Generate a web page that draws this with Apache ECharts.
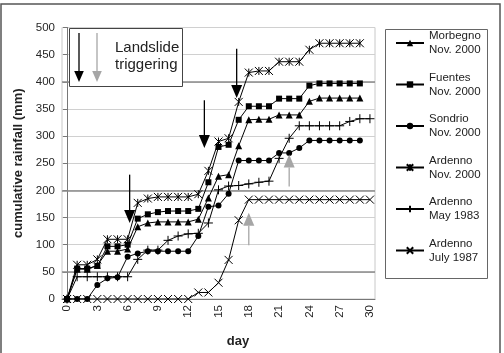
<!DOCTYPE html>
<html>
<head>
<meta charset="utf-8">
<script src="https://cdn.jsdelivr.net/npm/echarts@6/dist/echarts.min.js"></script>
<style>
  html, body { margin: 0; padding: 0; background: #fff; }
  #chart { width: 504px; height: 353px; }
</style>
</head>
<body>
<div id="chart"></div>
<script>
const days = ['0','1','2','3','4','5','6','7','8','9','10','11','12','13','14','15',
  '16','17','18','19','20','21','22','23','24','25','26','27','28','29','30']

const morbegno = [0,55,55,62,88,88,92,133,140,142,142,142,142,147,186,226,229,282,330,331,331,339,339,339,364,370,370,370,370,370]
const fuentes = [0,56,56,61,97,97,100,148,156,160,162,162,162,166,215,280,284,330,355,355,355,369,369,369,393,397,397,397,397,397]
const sondrio = [0,0,0,26,38,40,78,84,88,88,88,88,88,116,170,172,194,255,255,255,255,269,269,278,292,292,292,292,292,292]
const ardennoNov2000 = [0,63,63,73,110,110,110,177,185,188,188,188,188,193,236,290,296,363,417,420,420,437,437,437,459,471,471,471,471,471]
const ardennoMay1983 = [0,41,41,41,41,41,41,73,90,90,108,116,120,121,140,201,208,209,212,215,217,259,296,319,319,319,319,319,327,332,332]
const ardennoJuly1987 = [0,0,0,0,0,0,0,0,0,0,0,0,0,12,12,30,72,145,183,183,183,183,183,183,183,183,183,183,183,183,183]

// darker reference lines across the plot
const refLines = [50, 200, 400]

// landslide arrows: day, start value, tip value, gray (1) or black (0)
const arrowDay = [6.2, 13.6, 16.8, 22.0, 18.0]
const arrowFrom = [229, 366, 461, 207, 99]
const arrowTo = [140, 278, 370, 266, 159]
const arrowGray = [0, 0, 0, 1, 1]

const FONT = "'Liberation Sans', Arial, sans-serif"
const chart = echarts.init(document.getElementById('chart'))

const strokeSym = { color: 'rgba(0,0,0,0)', borderColor: '#000', borderWidth: 1 }
const fillSym = { color: '#000', borderWidth: 0 }

const mkSeries = (name, data, symbol, size, itemStyle) => ({
  name,
  type: 'line',
  data,
  symbol,
  symbolSize: size,
  showAllSymbol: true,
  itemStyle,
  lineStyle: { color: '#000', width: 1 },
  emphasis: { disabled: true },
  z: 3
})

const arrowData = arrowDay.map((d, i) => [d, arrowFrom[i], arrowTo[i], arrowGray[i]])

const option = {
  backgroundColor: '#fff',
  animation: false,
  textStyle: { fontFamily: FONT },
  grid: {
    left: 62, right: 129, top: 27.5, bottom: 52.5,
    show: true, borderColor: '#c8c8c8', borderWidth: 1
  },
  legend: {
    orient: 'vertical',
    left: 395,
    top: 22.25,
    padding: 0,
    itemWidth: 28,
    itemHeight: 8,
    itemGap: 0,
    selectedMode: false,
    textStyle: { fontSize: 11.5, color: '#222', lineHeight: 14, padding: [13.5, 0, 0, 0], fontFamily: FONT },
    data: ['Morbegno\nNov. 2000', 'Fuentes\nNov. 2000', 'Sondrio\nNov. 2000',
      'Ardenno\nNov. 2000', 'Ardenno\nMay 1983', 'Ardenno\nJuly 1987']
  },
  xAxis: [
    {
      type: 'category',
      data: days,
      boundaryGap: true,
      name: 'day',
      nameLocation: 'middle',
      nameGap: 36,
      nameTextStyle: { fontSize: 13, fontWeight: 'bold', color: '#222', padding: [0, 0, 0, 39] },
      axisLine: { lineStyle: { color: '#777' } },
      axisTick: { interval: 0, length: 4, lineStyle: { color: '#777' } },
      axisLabel: { interval: 2, rotate: 90, fontSize: 11.5, color: '#262626', margin: 6 },
      splitLine: { show: false }
    },
    {
      type: 'value',
      min: -0.5,
      max: 30.5,
      show: false
    }
  ],
  yAxis: {
    type: 'value',
    min: 0,
    max: 500,
    interval: 50,
    name: 'cumulative rainfall (mm)',
    nameLocation: 'middle',
    nameGap: 36,
    nameTextStyle: { fontSize: 13, fontWeight: 'bold', color: '#222' },
    axisLine: { show: true, lineStyle: { color: '#777' } },
    axisTick: { show: true, length: 4, lineStyle: { color: '#777' } },
    axisLabel: { fontSize: 11.5, color: '#262626', margin: 7 },
    splitLine: { lineStyle: { color: '#d0d0d0', width: 1 } }
  },
  series: [
    Object.assign(mkSeries('Morbegno\nNov. 2000', morbegno, 'triangle', 7, fillSym), {
      markLine: {
        silent: true,
        symbol: 'none',
        z: 1,
        label: { show: false },
        lineStyle: { color: '#8a8a8a', width: 1.6, type: 'solid' },
        data: refLines.map(v => ({ yAxis: v }))
      }
    }),
    mkSeries('Fuentes\nNov. 2000', fuentes, 'rect', 6, fillSym),
    mkSeries('Sondrio\nNov. 2000', sondrio, 'circle', 6, fillSym),
    mkSeries('Ardenno\nNov. 2000', ardennoNov2000, 'path://M0,0L10,10M10,0L0,10M5,0L5,10', 8, strokeSym),
    mkSeries('Ardenno\nMay 1983', ardennoMay1983, 'path://M5,0L5,10M0,5L10,5', 9, strokeSym),
    mkSeries('Ardenno\nJuly 1987', ardennoJuly1987, 'path://M0,0L10,10M10,0L0,10', 8, strokeSym),
    {
      name: 'arrows',
      type: 'custom',
      xAxisIndex: 1,
      yAxisIndex: 0,
      silent: true,
      z: 4,
      data: arrowData,
      renderItem: (params, api) => {
        const from = api.coord([api.value(0), api.value(1)])
        const to = api.coord([api.value(0), api.value(2)])
        const color = api.value(3) ? '#a6a6a6' : '#000'
        const dir = to[1] > from[1] ? 1 : -1
        const headLen = 13
        const headW = 5.5
        const base = to[1] - dir * headLen
        return {
          type: 'group',
          children: [
            { type: 'line', shape: { x1: from[0], y1: from[1], x2: to[0], y2: base }, style: { stroke: color, lineWidth: 1.3 } },
            { type: 'polygon', shape: { points: [[to[0] - headW, base], [to[0] + headW, base], [to[0], to[1]]] }, style: { fill: color } }
          ]
        }
      }
    }
  ],
  graphic: [
    // outer frame
    { type: 'rect', shape: { x: 1, y: 4, width: 499, height: 360 }, style: { fill: 'none', stroke: '#555', lineWidth: 1.5 }, silent: true },
    // legend frame
    { type: 'rect', shape: { x: 385.5, y: 29.5, width: 102, height: 249 }, style: { fill: 'none', stroke: '#666', lineWidth: 1 }, silent: true },
    // landslide key box
    { type: 'rect', shape: { x: 69.5, y: 28.5, width: 113, height: 58 }, style: { fill: '#fff', stroke: '#444', lineWidth: 1 }, z: 10, silent: true },
    { type: 'line', shape: { x1: 79, y1: 33, x2: 79, y2: 72 }, style: { stroke: '#000', lineWidth: 1.3 }, z: 11, silent: true },
    { type: 'polygon', shape: { points: [[74.2, 71], [83.8, 71], [79, 82]] }, style: { fill: '#000' }, z: 11, silent: true },
    { type: 'line', shape: { x1: 97, y1: 33, x2: 97, y2: 72 }, style: { stroke: '#a6a6a6', lineWidth: 1.3 }, z: 11, silent: true },
    { type: 'polygon', shape: { points: [[92.2, 71], [101.8, 71], [97, 82]] }, style: { fill: '#a6a6a6' }, z: 11, silent: true },
    {
      type: 'text', left: 115, top: 39, z: 11, silent: true,
      style: { text: 'Landslide\ntriggering', fontSize: 15, lineHeight: 17, fill: '#222', fontFamily: FONT }
    }
  ]
}

chart.setOption(option)
</script>
</body>
</html>
